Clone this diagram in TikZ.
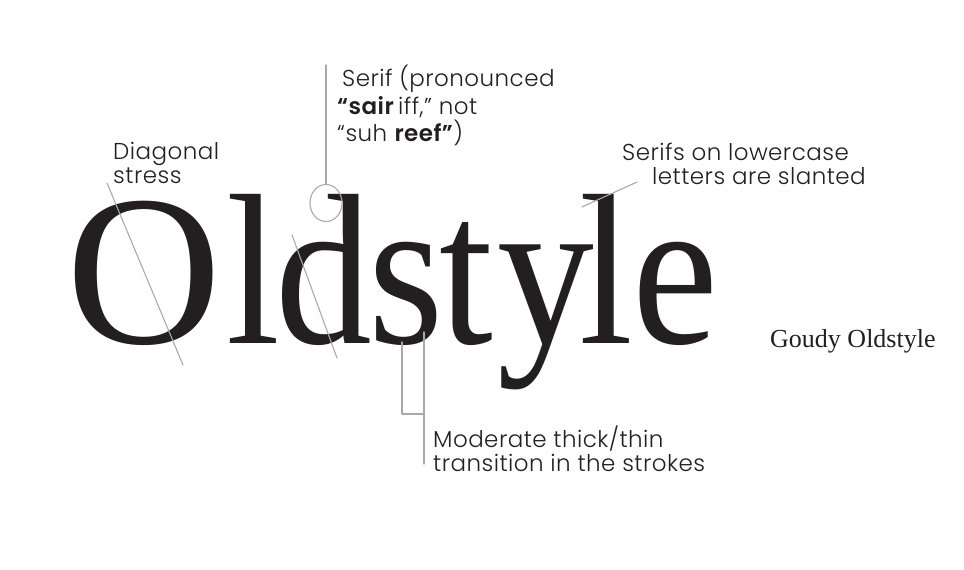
\documentclass[tikz,border=0pt]{standalone}
\usepackage{fontspec}
\usetikzlibrary{shapes.geometric}
\setmainfont{Liberation Serif}
\IfFontExistsTF{Poppins Light}
  {\IfFontExistsTF{Poppins SemiBold}
    {\newfontfamily\notefont{Poppins Light}[BoldFont={Poppins SemiBold},LetterSpace=2]}
    {\newfontfamily\notefont{Poppins Light}[BoldFont={Poppins},LetterSpace=2]}}
  {\newfontfamily\notefont{Poppins}}
\definecolor{ink}{HTML}{231F20}
\definecolor{guide}{HTML}{A9A9A9}

\begin{document}
\begin{tikzpicture}[x=1pt,y=-1pt,line cap=round,line join=round,
  note/.style={anchor=north west,inner sep=0pt,align=left,text=ink,font=\notefont\fontsize{23}{24}\selectfont},
  guide/.style={draw=guide,line width=1.1pt}]
  \useasboundingbox (0,0) rectangle (964,570);
  \node[anchor=base west,inner sep=0pt,text=ink,font=\fontsize{215}{215}\selectfont] (word) at (66.7,343)
    {O\kern4.4pt\scalebox{0.9}[1]{l\kern-5.9pt d\kern-3.9pt s\kern-4.2pt t\kern4.4pt y\kern-16.4pt l\kern-1.1pt e}};
  \node[anchor=base west,inner sep=0pt,text=ink,font=\fontsize{26}{26}\selectfont] (face) at (770,347) {Goudy Oldstyle};
  \node[note] (stress) at (113,142) {Diagonal\\stress};
  \node[note,font=\notefont\fontsize{23}{27.5}\selectfont] (serif) at (337,65) {\hspace{5pt}Serif (pronounced\\\textbf{“sair}\,iff,” not\\“suh \textbf{reef”})};
  \node[note] (slant) at (622,143) {Serifs on lowercase\\\hspace{30pt}letters are slanted};
  \node[note] (contrast) at (433,426) {Moderate thick/thin\\transition in the strokes};
  \node[guide,ellipse,minimum width=32pt,minimum height=37pt,inner sep=0pt] (serifmark) at (326,203) {};
  \coordinate (serifend) at (326,65);
  \draw[guide] (serifmark.north) -- (serifend);
  \coordinate (ostress1) at (107,183); \coordinate (ostress2) at (183,365);
  \coordinate (dstress1) at (292,235); \coordinate (dstress2) at (337,358);
  \draw[guide] (ostress1) -- (ostress2);
  \draw[guide] (dstress1) -- (dstress2);
  \coordinate (slant1) at (582,207); \coordinate (slant2) at (637,182);
  \draw[guide] (slant1) -- (slant2);
  \coordinate (thin) at (402,342); \coordinate (thick) at (424,332);
  \coordinate (contrastend) at (424,464);
  \draw[guide] (thin) -- (402,414) -- (424,414);
  \draw[guide] (thick) -- (contrastend);
\end{tikzpicture}
\end{document}
